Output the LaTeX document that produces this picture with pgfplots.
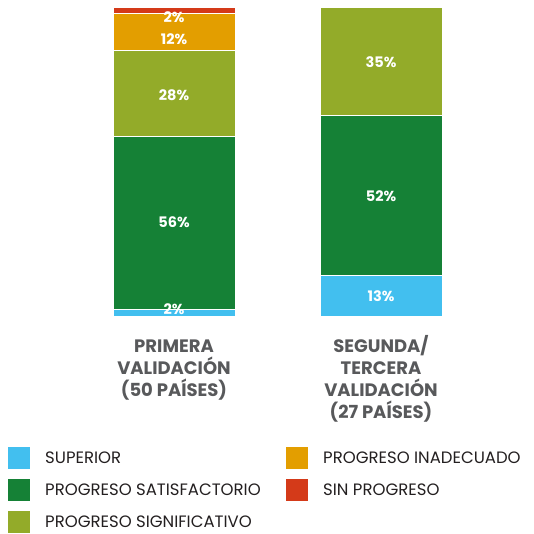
\documentclass[border=0pt]{standalone}
\usepackage{fontspec}
\setmainfont{Poppins}
\usepackage{pgfplots}
\pgfplotsset{compat=1.18}
\definecolor{cBlue}{HTML}{42BFEF}
\definecolor{cGreen}{HTML}{158136}
\definecolor{cOlive}{HTML}{93AB29}
\definecolor{cOrange}{HTML}{E39E00}
\definecolor{cRed}{HTML}{D43A19}
\definecolor{cLab}{HTML}{58595B}
\definecolor{cTxt}{HTML}{231F20}
\DeclareRobustCommand\legfont{\fontsize{16.5}{18}\selectfont}
\DeclareRobustCommand\valfont{\bfseries\fontsize{14.5}{16}\selectfont}
\DeclareRobustCommand\catfont{\bfseries\fontsize{18}{22}\selectfont}
\tikzset{val/.style={text=white, font=\valfont},
  cat/.style={text=cLab, font=\catfont, align=center, anchor=north}}
\begin{document}
\begin{tikzpicture}
\begin{axis}[
  scale only axis, width=533pt, height=534pt,
  xmin=0, xmax=533, ymin=-70.55, ymax=102.27,
  axis line style={draw=none}, ticks=none,
  ybar stacked, bar width=122,
  clip=false,
  legend columns=2, legend cell align=left,
  legend style={draw=none, fill=none, at={(axis cs:8,-42.39)}, anchor=north west,
    inner sep=0pt, font=\legfont, text=cTxt,
    /tikz/every odd column/.append style={column sep=13pt},
    /tikz/every even column/.append style={column sep=15pt},
    row sep=10pt},
  legend image code/.code={\path[#1, draw=none] (0pt,-11pt) rectangle (22pt,11pt);},
]
\addlegendimage{fill=cBlue}
\addlegendentry{\makebox[224pt][l]{SUPERIOR}}
\addlegendimage{fill=cOrange}
\addlegendentry{PROGRESO INADECUADO}
\addlegendimage{fill=cGreen}
\addlegendentry{\makebox[224pt][l]{PROGRESO SATISFACTORIO}}
\addlegendimage{fill=cRed}
\addlegendentry{SIN PROGRESO}
\addlegendimage{fill=cOlive}
\addlegendentry{\makebox[224pt][l]{PROGRESO SIGNIFICATIVO}}
\addplot[fill=cBlue, draw=white, line width=1pt, forget plot] coordinates {(174,2) (381,13)};
\addplot[fill=cGreen, draw=white, line width=1pt, forget plot] coordinates {(174,56) (381,52)};
\addplot[fill=cOlive, draw=white, line width=1pt, forget plot] coordinates {(174,28) (381,35)};
\addplot[fill=cOrange, draw=white, line width=1pt, forget plot] coordinates {(174,12) (381,0)};
\addplot[fill=cRed, draw=white, line width=1pt, forget plot] coordinates {(174,2) (381,0)};
\coordinate (v1) at (axis cs:174,2.3);
\coordinate (v2) at (axis cs:174,30.4);
\coordinate (v3) at (axis cs:174,71.5);
\coordinate (v4) at (axis cs:174,89.6);
\coordinate (v5) at (axis cs:174,96.8);
\coordinate (w1) at (axis cs:381,6.5);
\coordinate (w2) at (axis cs:381,38.8);
\coordinate (w3) at (axis cs:381,82);
\node[cat] at (axis cs:174,-5.2) {\vphantom{/}PRIMERA\\VALIDACIÓN\\(50 PAÍSES)};
\node[cat] at (axis cs:381,-5.2) {SEGUNDA/\\TERCERA\\VALIDACIÓN\\(27 PAÍSES)};
\end{axis}
\node[val] at (v1) {2\%};
\node[val] at (v2) {56\%};
\node[val] at (v3) {28\%};
\node[val] at (v4) {12\%};
\node[val] at (v5) {2\%};
\node[val] at (w1) {13\%};
\node[val] at (w2) {52\%};
\node[val] at (w3) {35\%};
\end{tikzpicture}
\end{document}
